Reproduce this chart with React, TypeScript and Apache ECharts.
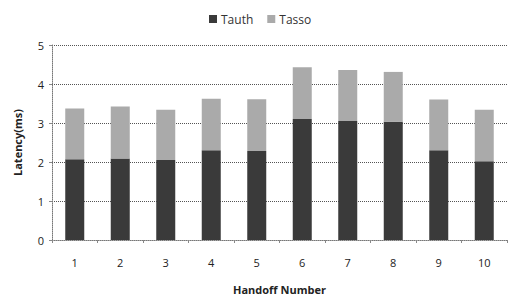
import React, { useEffect, useRef } from "react";
import * as echarts from "echarts";

const categories = ["1", "2", "3", "4", "5", "6", "7", "8", "9", "10"];
const tauth = [2.07, 2.09, 2.05, 2.3, 2.28, 3.1, 3.05, 3.03, 2.3, 2.02];
const totals = [3.37, 3.42, 3.34, 3.62, 3.61, 4.43, 4.36, 4.31, 3.6, 3.34];
const tasso = totals.map((t, i) => +(t - tauth[i]).toFixed(2));
const yTicks = [0, 1, 2, 3, 4, 5];

export default function App() {
  const ref = useRef<HTMLDivElement>(null);
  useEffect(() => {
    const chart = echarts.init(ref.current!, undefined, { renderer: "svg" });
    const font = "'Open Sans', 'DejaVu Sans', sans-serif";
    chart.setOption({
      animation: false,
      backgroundColor: "#ffffff",
      textStyle: { fontFamily: font },
      legend: {
        top: 8,
        left: 204,
        itemWidth: 8,
        itemHeight: 8,
        itemGap: 14,
        icon: "rect",
        textStyle: { fontSize: 12, color: "#333", fontFamily: font, padding: [0, 0, 0, -1] },
        data: ["Tauth", "Tasso"],
      },
      grid: { left: 52, right: 1, top: 45, bottom: 64 },
      xAxis: {
        type: "category",
        data: categories,
        name: "Handoff Number",
        nameLocation: "middle",
        nameGap: 44,
        nameTextStyle: { fontSize: 11, fontWeight: "bold", color: "#222", fontFamily: font },
        axisLine: { lineStyle: { color: "#777", type: "dotted" } },
        axisTick: { show: true, length: 3, lineStyle: { color: "#888" } },
        axisLabel: { fontSize: 11, color: "#222", margin: 17 },
      },
      yAxis: {
        type: "value",
        min: yTicks[0],
        max: yTicks[yTicks.length - 1],
        interval: 1,
        name: "Latency(ms)",
        nameLocation: "middle",
        nameGap: 29,
        nameTextStyle: { fontSize: 11, fontWeight: "bold", color: "#222", fontFamily: font },
        axisLine: { show: true, lineStyle: { color: "#777", type: "dotted" } },
        axisTick: { show: true, length: 3, lineStyle: { color: "#888" } },
        axisLabel: { fontSize: 11, color: "#222", margin: 8 },
        splitLine: { lineStyle: { color: "#555", type: "dotted" } },
      },
      series: [
        {
          name: "Tauth",
          type: "bar",
          stack: "total",
          data: tauth,
          barWidth: 19,
          itemStyle: { color: "#3a3a3a" },
        },
        {
          name: "Tasso",
          type: "bar",
          stack: "total",
          data: tasso,
          barWidth: 19,
          itemStyle: { color: "#aaaaaa" },
        },
      ],
    });
    return () => chart.dispose();
  }, []);
  return (
    <div
      ref={ref}
      style={{ position: "fixed", left: 0, top: 0, width: 508, height: 304 }}
    />
  );
}
